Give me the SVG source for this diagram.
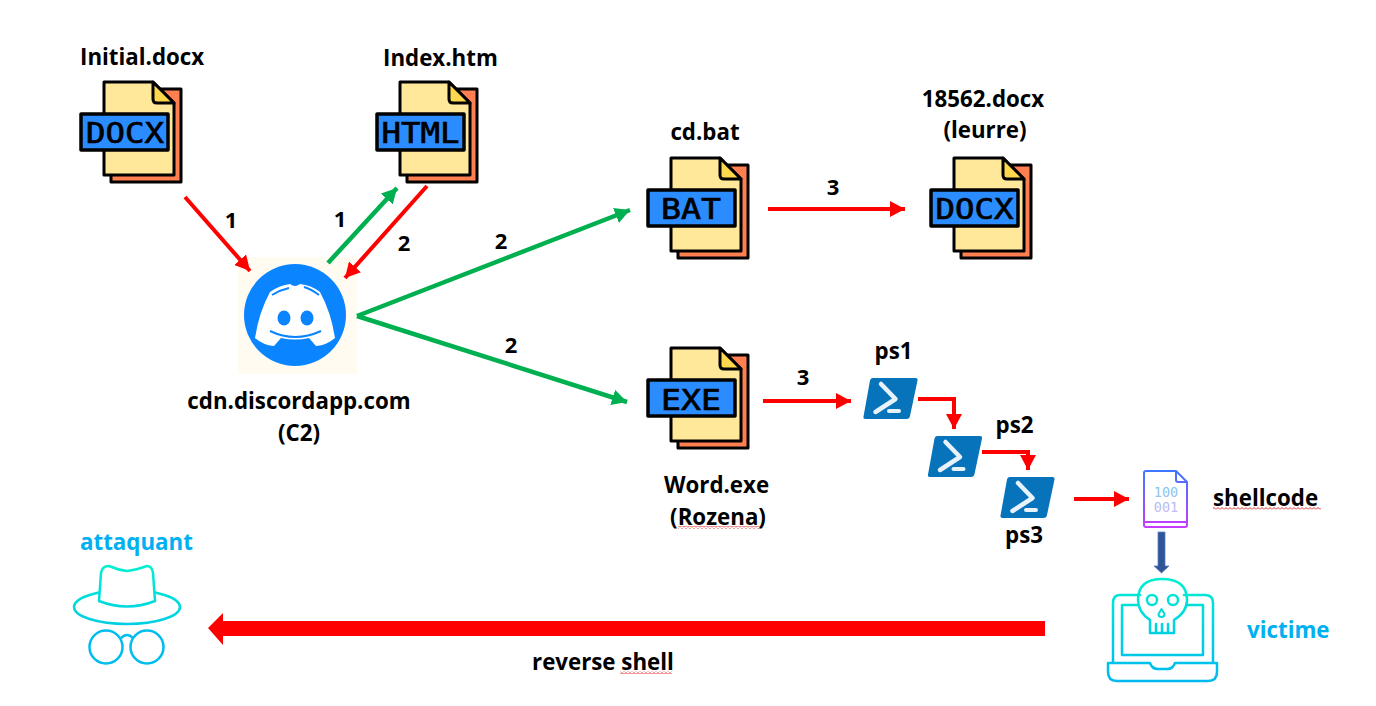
<svg xmlns="http://www.w3.org/2000/svg" width="1376" height="706" viewBox="0 0 1376 706">
<style>
text{font-family:"Open Sans","Noto Sans","Liberation Sans",sans-serif;font-weight:700;font-size:22.3px;fill:#000}
.c{text-anchor:middle}
.cy{fill:#00b0f0}
text.n{font-size:22px}
.fl{fill:#ff7f50;stroke:#000;stroke-width:3;stroke-linejoin:round}
text.ico{font-family:"DejaVu Sans Mono","Liberation Mono",monospace;font-size:29px;font-weight:400;fill:#000;stroke:#000;stroke-width:.7;text-anchor:middle}
.r{stroke:#f00;stroke-width:4;fill:none}
.g{stroke:#00b050;stroke-width:4.5;fill:none}
.ln{fill:none;stroke-linecap:round;stroke-linejoin:round}
text.bit{font-family:"DejaVu Sans Mono",monospace;font-size:13.5px;font-weight:400;fill:url(#bits);text-anchor:middle}
</style>
<defs>
<marker id="ar" markerUnits="userSpaceOnUse" markerWidth="16" markerHeight="16" refX="15" refY="8" orient="auto"><path d="M0 0L15 8L0 16Z" fill="#f00"/></marker>
<marker id="ag" markerUnits="userSpaceOnUse" markerWidth="16" markerHeight="16" refX="15" refY="8" orient="auto"><path d="M0 0L15 8L0 16Z" fill="#00b050"/></marker>
<linearGradient id="tbu" gradientUnits="userSpaceOnUse" x1="0" y1="575" x2="0" y2="682"><stop offset="0" stop-color="#00f0d0"/><stop offset="1" stop-color="#00b8f0"/></linearGradient>
<linearGradient id="hatg" gradientUnits="userSpaceOnUse" x1="0" y1="565" x2="0" y2="665"><stop offset="0" stop-color="#00f0d0"/><stop offset="1" stop-color="#00b8f0"/></linearGradient>
<linearGradient id="sc" gradientUnits="userSpaceOnUse" x1="0" y1="470" x2="0" y2="528"><stop offset="0" stop-color="#3c78ff"/><stop offset="1" stop-color="#c83cff"/></linearGradient>
<linearGradient id="bits" gradientUnits="userSpaceOnUse" x1="0" y1="485" x2="0" y2="515"><stop offset="0" stop-color="#7cc4f0"/><stop offset="1" stop-color="#d0b8f5"/></linearGradient>
<pattern id="wave" patternUnits="userSpaceOnUse" width="4" height="3"><path d="M0 2.5L2 .5L4 2.5" fill="none" stroke="#e03030" stroke-width="1"/></pattern>
<g id="file">
<path class="fl" d="M30 7H100V100H30Z"/>
<path d="M23 0H72L93 21V93H23Z" fill="#ffe89a" stroke="#000" stroke-width="3" stroke-linejoin="round"/>
<path d="M72 0V17Q72 21 76 21H93Z" fill="#ffd84d" stroke="#000" stroke-width="3" stroke-linejoin="round"/>
<rect x="0" y="32" width="87" height="36" fill="#2a8cff" stroke="#000" stroke-width="3.5" stroke-linejoin="round"/>
</g>
<g id="ps">
<path d="M9.500 0H52.500Q55 0 54.500 2.500L47 38Q46.500 41 43.500 41H2.500Q0 41 .5 38.500L7 2.500Q7.500 0 9.500 0Z" fill="#0673ba"/>
<path d="M18 6L32.500 21L12.500 34" fill="none" stroke="#e8f2fa" stroke-width="4.500" stroke-linecap="round" stroke-linejoin="round"/>
<path d="M26 33H36" fill="none" stroke="#e8f2fa" stroke-width="4" stroke-linecap="round"/>
</g>
</defs>
<rect width="1376" height="706" fill="#fff"/>

<g id="initial"><use href="#file" x="81" y="82"/><text class="ico" x="125" y="143" textLength="78" lengthAdjust="spacingAndGlyphs">DOCX</text><text x="80" y="65">Initial.docx</text></g>
<g id="index"><use href="#file" x="377" y="82"/><text class="ico" x="420.500" y="143" textLength="78" lengthAdjust="spacingAndGlyphs">HTML</text><text x="383" y="66">Index.htm</text></g>
<g id="cdbat"><use href="#file" x="648" y="158"/><text class="ico" x="691" y="219" textLength="60" lengthAdjust="spacingAndGlyphs">BAT</text><text class="c" x="705" y="140">cd.bat</text></g>
<g id="lure"><use href="#file" x="931" y="158"/><text class="ico" x="974.500" y="219" textLength="78" lengthAdjust="spacingAndGlyphs">DOCX</text><text class="c" x="983" y="107">18562.docx</text><text class="c" x="985" y="138">(leurre)</text></g>
<g id="wordexe"><use href="#file" x="648" y="348"/><text class="ico" x="691" y="410" textLength="60" lengthAdjust="spacingAndGlyphs">EXE</text><text class="c" x="716.500" y="493">Word.exe</text><text class="c" x="718" y="525">(Rozena)</text><rect x="678" y="526" width="82" height="3" fill="url(#wave)"/></g>

<g id="discord">
<rect x="238" y="257" width="119" height="117" fill="#fffbf0"/>
<circle cx="295" cy="315" r="51" fill="#0a84ff"/>
<path d="M270 292Q280 285 290 284Q295 288 300 284Q311 285 320 292Q331 312 335 338Q327 345 316 346L309 338Q295 341 281 338L274 346Q263 345 255 338Q259 312 270 292Z" fill="#fff"/>
<path d="M272 295Q280 290 289 288M319 295Q311 289 304 287M270 331Q295 343 321 331" fill="none" stroke="#0a84ff" stroke-width="2"/>
<ellipse cx="284" cy="318" rx="6.500" ry="7.500" fill="#0a84ff"/>
<ellipse cx="307" cy="318" rx="6.500" ry="7.500" fill="#0a84ff"/>
<text class="c" x="299" y="409">cdn.discordapp.com</text><text class="c" x="299" y="441">(C2)</text>
</g>

<g id="ps1"><use href="#ps" x="863" y="378"/><text class="c" x="893.500" y="359">ps1</text></g>
<g id="ps2"><use href="#ps" x="927.500" y="436"/><text class="c" x="1014.500" y="433">ps2</text></g>
<g id="ps3"><use href="#ps" x="1000" y="477"/><text class="c" x="1024" y="543">ps3</text></g>

<g id="shellcode">
<path d="M1146 471H1176L1187 482V525Q1187 527 1185 527H1146Q1144 527 1144 525V473Q1144 471 1146 471Z M1176 471V480Q1176 482 1178 482H1187 M1144 522H1187" fill="none" stroke="url(#sc)" stroke-width="2" stroke-linejoin="round"/>
<text class="bit" x="1166" y="497">100</text>
<text class="bit" x="1166" y="512">001</text>
<text x="1213" y="506">shellcode</text><rect x="1213" y="507" width="108" height="3" fill="url(#wave)"/>
</g>

<g id="victime">
<path class="ln" stroke="url(#tbu)" stroke-width="2.500" d="M1140 595H1120Q1113 595 1113 603V662 M1184 595H1205Q1213 595 1213 603V662 M1138 605H1122V655H1203V605H1186 M1108 663H1150Q1152 669 1158 669H1167Q1173 669 1175 663H1217V672Q1217 681 1208 681H1117Q1108 681 1108 672Z"/>
<path class="ln" stroke="url(#tbu)" stroke-width="2.500" fill="#fff" d="M1150 620Q1138 612 1138 600Q1138 579 1162 579Q1187 579 1187 600Q1187 612 1174 620V633H1150Z M1156 624V633M1162 624V633M1168 624V633"/>
<circle cx="1152" cy="600" r="5" fill="none" stroke="url(#tbu)" stroke-width="2.500"/>
<circle cx="1173" cy="600" r="5" fill="none" stroke="url(#tbu)" stroke-width="2.500"/>
<path class="ln" stroke="url(#tbu)" stroke-width="2" d="M1161.500 609L1158.500 614Q1158.500 617 1161.500 617Q1164.500 617 1164.500 614Z"/>
<text class="cy" x="1247" y="638">victime</text>
</g>

<g id="attaquant">
<ellipse cx="127" cy="607" rx="53" ry="17" fill="none" stroke="url(#hatg)" stroke-width="2.500"/>
<path d="M99 601L101 573Q102 566 109 566Q118 570 127 571Q136 570 147 566Q152 566 153 573L155 601Q127 612 99 601Z" fill="#fff" stroke="url(#hatg)" stroke-width="2.500" stroke-linejoin="round"/>
<circle cx="106" cy="647" r="16.500" fill="none" stroke="#00bdf0" stroke-width="2.500"/>
<circle cx="147" cy="647" r="16.500" fill="none" stroke="#00bdf0" stroke-width="2.500"/>
<path d="M121 638Q127 632 133 638" fill="none" stroke="#00bdf0" stroke-width="2.500"/>
<text class="cy" x="80" y="550">attaquant</text>
</g>

<g id="connectors">
<path class="r" marker-end="url(#ar)" d="M185 197L250 271"/>
<path class="g" marker-end="url(#ag)" d="M328 263L397 188"/>
<path class="r" marker-end="url(#ar)" d="M427 186L345 278"/>
<path class="g" marker-end="url(#ag)" d="M357 316L630 210"/>
<path class="g" marker-end="url(#ag)" d="M357 316L627 402"/>
<path class="r" marker-end="url(#ar)" d="M768 209H905"/>
<path class="r" marker-end="url(#ar)" d="M763 401H851"/>
<path class="r" stroke-width="5" marker-end="url(#ar)" d="M918 399H954V429"/>
<path class="r" stroke-width="5" marker-end="url(#ar)" d="M982 452H1028V470"/>
<path class="r" marker-end="url(#ar)" d="M1074 499H1129"/>
<path d="M1158 532H1165V566H1169L1161.500 573L1154 566H1158Z" fill="#2f5597" stroke="#5b82c0" stroke-width=".8"/>
<path d="M1045 621V636H223V645L208 628L223 613V621Z" fill="#f00"/>
</g>

<g id="labels">
<text class="c n" x="231" y="228">1</text>
<text class="c n" x="340" y="227">1</text>
<text class="c n" x="404" y="251">2</text>
<text class="c n" x="501" y="249">2</text>
<text class="c n" x="511" y="353">2</text>
<text class="c n" x="833" y="195">3</text>
<text class="c n" x="803" y="385">3</text>
<text x="532" y="670">reverse shell</text><rect x="620" y="671" width="52" height="3" fill="url(#wave)"/>
</g>
</svg>
